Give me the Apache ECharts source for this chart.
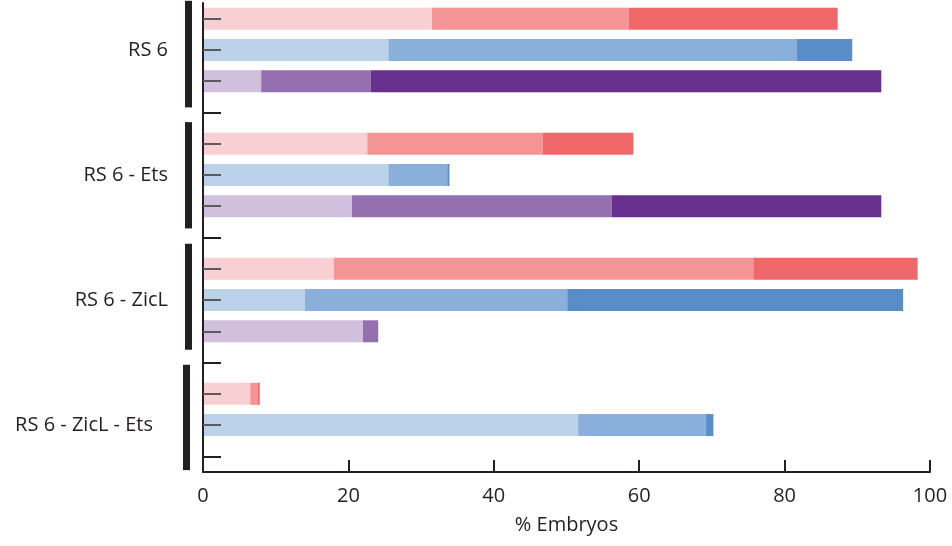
<!DOCTYPE html>
<html>
<head>
<meta charset="utf-8">
<script src="https://cdn.jsdelivr.net/npm/echarts@6/dist/echarts.min.js"></script>
<style>
  html, body { margin: 0; padding: 0; background: #fff; }
  #chart { width: 952px; height: 546px; }
</style>
</head>
<body>
<div id="chart"></div>
<script>
const groups = ['RS 6', 'RS 6 - Ets', 'RS 6 - ZicL', 'RS 6 - ZicL - Ets']

// % embryos per group, light / mid / dark segment (null = no row)
const redLight = [31.5, 22.6, 18.0, 6.5]
const redMid = [27.1, 24.1, 57.7, 1.0]
const redDark = [28.7, 12.5, 22.6, 0.3]
const blueLight = [25.5, 25.5, 14.0, 51.6]
const blueMid = [56.2, 8.1, 36.1, 17.6]
const blueDark = [7.6, 0.3, 46.2, 1.0]
const purpleLight = [8.0, 20.5, 22.0, null]
const purpleMid = [15.1, 35.7, 2.1, null]
const purpleDark = [70.2, 37.1, 0, null]

const xTicks = [0, 20, 40, 60, 80, 100]

const palette = {
  red: ['#f8d0d3', '#f59495', '#ef6769'],
  blue: ['#bcd2ea', '#8aafdb', '#588dc8'],
  purple: ['#d0bfdd', '#966fb0', '#66308c']
}

// bracket spans in row units (top, bottom)
const groupSpans = [[-0.57, 2.84], [3.31, 6.71], [7.2, 10.59], [11.07, 14.44]]

const values = {
  red: [redLight, redMid, redDark],
  blue: [blueLight, blueMid, blueDark],
  purple: [purpleLight, purpleMid, purpleDark]
}

// build rows: each group -> red, blue, purple, then a gap row
const rows = []
groups.forEach((g, gi) => {
  ['red', 'blue', 'purple'].forEach(c => {
    if (values[c][0][gi] != null) rows.push({ key: g + '|' + c, group: g, color: c, gi })
  })
  rows.push({ key: g + '|gap', group: g, color: null, gi })
})
const categories = rows.map(r => r.key)
const labelIdx = groups.map(g => rows.findIndex(r => r.group === g && r.color === 'blue'))

const makeSeries = (level) => ({
  type: 'bar',
  stack: 'total',
  barWidth: 22,
  silent: true,
  data: rows.map(r => {
    if (!r.color) return '-'
    return {
      value: values[r.color][level][r.gi],
      itemStyle: { color: palette[r.color][level] }
    }
  })
})

const chart = echarts.init(document.getElementById('chart'))

const yBase = {
  type: 'category',
  inverse: true,
  data: categories,
  axisLine: { show: false },
  axisLabel: { show: false },
  splitLine: { show: false },
  position: 'left'
}

chart.setOption({
  animation: false,
  textStyle: { fontFamily: 'Open Sans' },
  grid: { left: 203, right: 22, top: 3, bottom: 74 },
  xAxis: {
    type: 'value',
    min: 0,
    max: 100,
    interval: 20,
    name: '% Embryos',
    nameLocation: 'middle',
    nameGap: 43,
    nameTextStyle: { fontSize: 20, color: '#231f20', fontFamily: 'Open Sans' },
    axisLine: { show: true, lineStyle: { color: '#231f20', width: 2 } },
    axisTick: { show: true, inside: true, length: 12, lineStyle: { color: '#231f20', width: 2 } },
    axisLabel: {
      fontSize: 20, color: '#231f20', margin: 14,
      formatter: v => xTicks.includes(v) ? String(v) : ''
    },
    splitLine: { show: false }
  },
  yAxis: [
    Object.assign({}, yBase, {
      z: 10,
      axisLine: { show: true, lineStyle: { color: '#231f20', width: 2 } },
      axisTick: {
        show: true, inside: true, alignWithLabel: true, length: 18,
        interval: (i) => rows[i].color !== null,
        lineStyle: { color: '#5b5b5b', width: 2 }
      },
      axisLabel: {
        show: true,
        margin: 35,
        fontSize: 20,
        color: '#231f20',
        interval: (i) => labelIdx.includes(i),
        formatter: (v) => {
          const r = rows[categories.indexOf(v)]
          return r.gi === 3 ? '{pad|' + r.group + '}' : r.group
        },
        rich: { pad: { fontSize: 20, color: '#231f20', padding: [0, 15, 0, 0] } }
      }
    }),
    Object.assign({}, yBase, {
      z: 10,
      axisTick: {
        show: true, inside: true, alignWithLabel: true, length: 18,
        interval: (i) => rows[i].color === null,
        lineStyle: { color: '#231f20', width: 2 }
      }
    })
  ],
  series: [
    makeSeries(0),
    makeSeries(1),
    makeSeries(2),
    {
      type: 'custom',
      clip: false,
      silent: true,
      data: groupSpans.map((s, i) => i),
      renderItem: (params, api) => {
        const [top, bottom] = groupSpans[params.dataIndex]
        const band = api.size([0, 1])[1]
        const y0 = api.coord([0, 0])[1] + top * band
        const y1 = api.coord([0, 0])[1] + bottom * band
        const x = params.coordSys.x - (params.dataIndex === 3 ? 20 : 18)
        return {
          type: 'rect',
          shape: { x, y: y0, width: 7, height: y1 - y0 },
          style: { fill: '#231f20' }
        }
      }
    }
  ]
})
</script>
</body>
</html>
